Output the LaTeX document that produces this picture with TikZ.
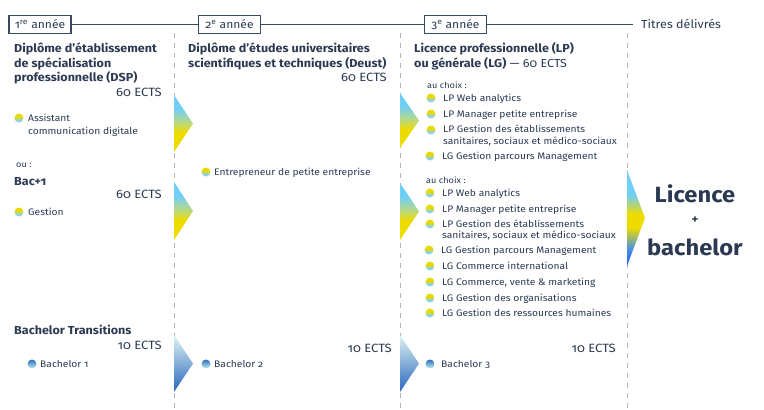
\documentclass[tikz,border=0pt]{standalone}
\usepackage{fontspec}
\setmainfont{Fira Sans}[Numbers=OldStyle, FakeStretch=1.08]
\definecolor{ink}{HTML}{2B3A52}
\definecolor{rule}{HTML}{3A4A60}
\definecolor{dash}{HTML}{B4B4B4}
\definecolor{cy}{HTML}{EEDC00}
\definecolor{cm}{HTML}{B2D88E}
\definecolor{cb}{HTML}{70CFF7}
\definecolor{db}{HTML}{1C5CF2}
\definecolor{mb}{HTML}{4A90E4}
\definecolor{mint}{HTML}{DDF5F1}
\definecolor{bachb}{HTML}{2A66C0}
\definecolor{bulb}{HTML}{2F6DC0}
\definecolor{bull}{HTML}{C2EEF0}
\definecolor{buy}{HTML}{E8DA00}
\definecolor{bub}{HTML}{88D2F4}
\pgfdeclareverticalshading{chevYB}{100bp}{color(0bp)=(cy); color(42bp)=(cy); color(52bp)=(cm); color(63bp)=(cb); color(100bp)=(cb)}
\pgfdeclareverticalshading{chevF}{100bp}{color(0bp)=(db); color(25bp)=(db); color(34bp)=(mb); color(45bp)=(cy); color(52bp)=(cy); color(62bp)=(cb); color(100bp)=(cb)}
\pgfdeclareverticalshading{bulY}{100bp}{color(0bp)=(bub); color(38bp)=(bub); color(56bp)=(buy); color(100bp)=(buy)}
\tikzset{
  txt/.style={anchor=base west, inner sep=0, text=ink, font=\fontsize{9.5}{11}\selectfont},
  small/.style={anchor=base west, inner sep=0, text=ink, font=\fontsize{8.5}{10}\selectfont},
  ttl/.style={anchor=base west, inner sep=0, text=ink, font=\fontsize{11.6}{13}\selectfont\bfseries},
  ects/.style={anchor=base east, inner sep=0, text=ink, font=\fontsize{12}{13}\selectfont},
  yearbox/.style={draw=rule, line width=1.2pt, text=ink, font=\fontsize{11.2}{12}\selectfont, minimum width=62pt, minimum height=18pt, inner sep=0},
  buly/.style={circle, inner sep=0, minimum size=9pt, shading=bulY},
  bulb/.style={circle, inner sep=0, minimum size=9pt, top color=bulb, bottom color=bull},
  vdash/.style={draw=dash, line width=0.8pt, dash pattern=on 5pt off 5pt},
  big/.style={anchor=base, inner sep=0, text=ink, font=\fontsize{22}{24}\selectfont\bfseries},
}
\begin{document}
\begin{tikzpicture}[x=1pt,y=-1pt]
\useasboundingbox (0,0) rectangle (764,410);
% dashed column lines
\coordinate (d1t) at (174,33); \coordinate (d1b) at (174,410);
\coordinate (d2t) at (400,33); \coordinate (d2b) at (400,410);
\coordinate (d3t) at (627,33); \coordinate (d3b) at (627,410);
\path[vdash] (d1t) -- (d1b);
\path[vdash] (d2t) -- (d2b);
\path[vdash] (d3t) -- (d3b);
% timeline
\node[yearbox] (y1) at (40,24.5) {1\textsuperscript{re} année};
\node[yearbox] (y2) at (229.5,24.5) {2\textsuperscript{e} année};
\node[yearbox] (y3) at (455.5,24.5) {3\textsuperscript{e} année};
\coordinate (tend) at (633,24.5);
\draw[rule, line width=1.2pt] (y1) -- (y2);
\draw[rule, line width=1.2pt] (y2) -- (y3);
\draw[rule, line width=1.2pt] (y3) -- (tend);
\node[txt, font=\fontsize{11.6}{13}\selectfont] (tit) at (641,28.5) {Titres délivrés};
% chevrons
\shade[shading=chevYB] (174,95) -- (193,123.5) -- (174,152) -- cycle;
\shade[shading=chevYB] (174,182) -- (193,211) -- (174,240) -- cycle;
\shade[shading=chevYB] (400,93) -- (419,120.5) -- (400,148) -- cycle;
\shade[shading=chevYB] (400,183) -- (419,211.5) -- (400,240) -- cycle;
\shade[shading=chevF] (627,170) -- (645,218) -- (627,266) -- cycle;
\shade[top color=mint, bottom color=bachb] (174,335) -- (193,363.5) -- (174,392) -- cycle;
\shade[top color=mint, bottom color=bachb] (400,335) -- (419,363.5) -- (400,392) -- cycle;
% column 1
\node[ttl] (a1) at (14,52) {Diplôme d'établissement};
\node[ttl] (a2) at (14,67) {de spécialisation};
\node[ttl] (a3) at (14,81) {professionnelle (DSP)};
\node[ects] (a4) at (162,96) {60 ECTS};
\node[buly] (a5) at (19,118) {};
\node[txt] (a6) at (28,121.5) {Assistant};
\node[txt] (a7) at (28,134.5) {communication digitale};
\node[small] (a8) at (16,167.5) {ou :};
\node[ttl] (a9) at (14,185) {Bac+1};
\node[ects] (a10) at (162,198) {60 ECTS};
\node[buly] (a11) at (19,212) {};
\node[txt] (a12) at (28,215.5) {Gestion};
\node[ttl] (a13) at (14,334) {Bachelor Transitions};
\node[ects] (a14) at (162,349) {10 ECTS};
\node[bulb] (a15) at (32,364) {};
\node[txt] (a16) at (40,367.5) {Bachelor 1};
% column 2
\node[ttl] (b1) at (188,52) {Diplôme d'études universitaires};
\node[ttl] (b2) at (188,67) {scientifiques et techniques (Deust)};
\node[ects] (b3) at (387,81) {60 ECTS};
\node[buly] (b4) at (206,172) {};
\node[txt] (b5) at (214,175.5) {Entrepreneur de petite entreprise};
\node[ects] (b6) at (392,352) {10 ECTS};
\node[bulb] (b7) at (206,364) {};
\node[txt] (b8) at (214,367.5) {Bachelor 2};
% column 3
\node[ttl] (c1) at (414,52) {Licence professionnelle (LP)};
\node[ttl] (c2) at (414,67) {ou générale (LG)\mdseries\ — 60 ECTS};
\node[small] (c3) at (427,88) {au choix :};
\node[buly] (c4) at (431,98) {};   \node[txt] (c5) at (443,101.5) {LP Web analytics};
\node[buly] (c6) at (431,114) {};  \node[txt] (c7) at (443,117.5) {LP Manager petite entreprise};
\node[buly] (c8) at (431,130) {};  \node[txt] (c9) at (443,132.5) {LP Gestion des établissements};
\node[txt] (c10) at (443,144.5) {sanitaires, sociaux et médico-sociaux};
\node[buly] (c11) at (430,156) {}; \node[txt] (c12) at (442,159.5) {LG Gestion parcours Management};
\node[small] (d1) at (426,183) {au choix :};
\node[buly] (d2) at (430,193) {};  \node[txt] (d3) at (442,196.5) {LP Web analytics};
\node[buly] (d4) at (430,209) {};  \node[txt] (d5) at (442,212.5) {LP Manager petite entreprise};
\node[buly] (d6) at (430,224) {};  \node[txt] (d7) at (442,227) {LP Gestion des établissements};
\node[txt] (d8) at (442,238.5) {sanitaires, sociaux et médico-sociaux};
\node[buly] (d9) at (429,250) {};  \node[txt] (d10) at (441,253.5) {LG Gestion parcours Management};
\node[buly] (d11) at (430,266) {}; \node[txt] (d12) at (442,269.5) {LG Commerce international};
\node[buly] (d13) at (430,282) {}; \node[txt] (d14) at (442,285.5) {LG Commerce, vente \& marketing};
\node[buly] (d15) at (430,298) {}; \node[txt] (d16) at (442,301.5) {LG Gestion des organisations};
\node[buly] (d17) at (430,313) {}; \node[txt] (d18) at (442,316.5) {LG Gestion des ressources humaines};
\node[ects] (d19) at (616,352) {10 ECTS};
\node[bulb] (d20) at (430,364) {};
\node[txt] (d21) at (441,367.5) {Bachelor 3};
% final
\node[big] (f1) at (695,202) {Licence};
\node[big, font=\fontsize{12}{14}\selectfont\bfseries] (f2) at (695,223) {+};
\node[big] (f3) at (695,255) {bachelor};
\end{tikzpicture}
\end{document}
